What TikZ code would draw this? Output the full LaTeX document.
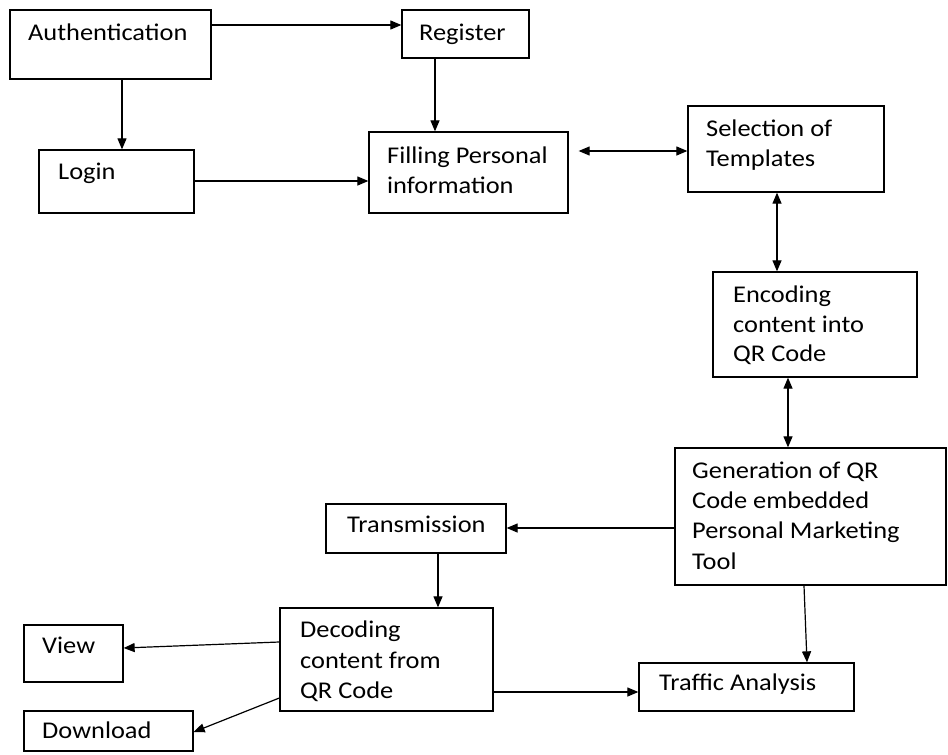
\documentclass[tikz,border=0pt]{standalone}
\usepackage{fontspec}
\setmainfont[FakeStretch=1.1]{Carlito}
\usetikzlibrary{arrows.meta}
\tikzset{
  box/.style={draw=black, line width=1.3pt, inner sep=0pt, fill=white},
  txt/.style={anchor=base west, inner sep=0pt, font=\fontsize{24}{30}\selectfont, text=black},
  arr/.style={line width=1.2pt, -{Triangle[length=11pt,width=9pt]}},
  dbl/.style={line width=1.2pt, {Triangle[length=11pt,width=9pt]}-{Triangle[length=11pt,width=9pt]}}
}
\begin{document}
\begin{tikzpicture}[x=1pt,y=-1pt]
\useasboundingbox[fill=white] (0,0) rectangle (948,755);
% boxes
\node[box, minimum width=201pt, minimum height=69pt] (auth) at (110.5,44.5) {};
\node[box, minimum width=127pt, minimum height=48pt] (reg) at (465.5,34) {};
\node[box, minimum width=155pt, minimum height=63pt] (login) at (116.5,181.5) {};
\node[box, minimum width=199pt, minimum height=81pt] (fill) at (468.5,172.5) {};
\node[box, minimum width=196pt, minimum height=86pt] (sel) at (786,149) {};
\node[box, minimum width=204pt, minimum height=105pt] (enc) at (815,324.5) {};
\node[box, minimum width=271pt, minimum height=137pt] (gen) at (810.5,516.5) {};
\node[box, minimum width=180pt, minimum height=49pt] (trans) at (416,528.5) {};
\node[box, minimum width=213pt, minimum height=103pt] (dec) at (386.5,659.5) {};
\node[box, minimum width=99pt, minimum height=57pt] (view) at (73.5,653.5) {};
\node[box, minimum width=169pt, minimum height=40pt] (down) at (108.5,731) {};
\node[box, minimum width=215pt, minimum height=48pt] (traffic) at (746.5,687) {};
% texts
\node[txt] (tauth) at (28,40) {Authentication};
\node[txt] (treg) at (419,40) {Register};
\node[txt] (tlogin) at (58,179) {Login};
\node[txt] (tfill1) at (387,163) {Filling Personal};
\node[txt] (tfill2) at (387,193) {information};
\node[txt] (tsel1) at (706,136) {Selection of};
\node[txt] (tsel2) at (706,166) {Templates};
\node[txt] (tenc1) at (733,302) {Encoding};
\node[txt] (tenc2) at (733,332) {content into};
\node[txt] (tenc3) at (733,361) {QR Code};
\node[txt] (tgen1) at (692,478) {Generation of QR};
\node[txt] (tgen2) at (692,508) {Code embedded};
\node[txt] (tgen3) at (692,538) {Personal Marketing};
\node[txt] (tgen4) at (692,569) {Tool};
\node[txt] (ttrans) at (347,532) {Transmission};
\node[txt] (tdec1) at (300,637) {Decoding};
\node[txt] (tdec2) at (300,668) {content from};
\node[txt] (tdec3) at (300,698) {QR Code};
\node[txt] (tview) at (42,653) {View};
\node[txt] (tdown) at (42,738) {Download};
\node[txt] (ttraffic) at (659,690) {Traffic Analysis};
% connectors
\draw[arr] (auth.east |- 0,25) -- (reg.west |- 0,25);
\draw[arr] (auth.south -| 122,0) -- (login.north -| 122,0);
\draw[arr] (reg.south -| 435,0) -- (fill.north -| 435,0);
\draw[arr] (login.east |- 0,181) -- (fill.west |- 0,181);
\draw[dbl, shorten <=10pt] (fill.east |- 0,151) -- (sel.west |- 0,151);
\draw[dbl] (sel.south -| 777,0) -- (enc.north -| 777,0);
\draw[dbl] (enc.south -| 788,0) -- (gen.north -| 788,0);
\draw[arr] (gen.west |- 0,528) -- (trans.east |- 0,528);
\draw[arr] (trans.south -| 438,0) -- (dec.north -| 438,0);
\draw[arr] (gen.south -| 804,0) -- (traffic.north -| 807,0);
\draw[arr] (dec.west |- 0,642) -- (view.east |- 0,648);
\draw[arr] (dec.west |- 0,698) -- (down.east |- 0,732);
\draw[arr] (dec.east |- 0,692) -- (traffic.west |- 0,692);
\end{tikzpicture}
\end{document}
